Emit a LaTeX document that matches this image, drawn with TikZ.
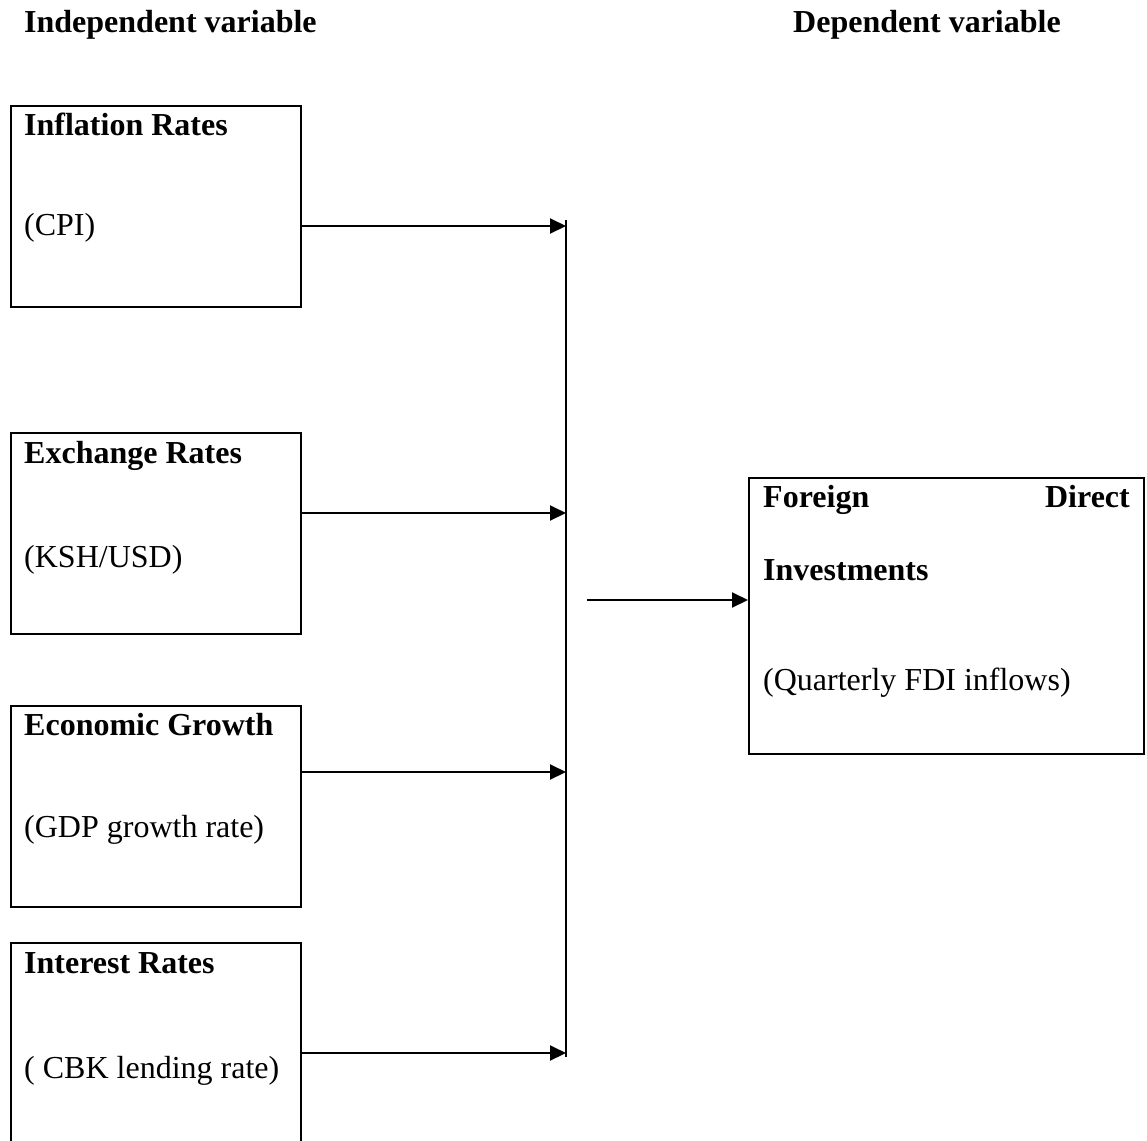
\documentclass[tikz,border=0pt]{standalone}
\usepackage{fontspec}
\setmainfont{Liberation Serif}
\usetikzlibrary{arrows.meta}
\begin{document}
\begin{tikzpicture}[x=1pt,y=-1pt,
  box/.style={draw,line width=2pt,rectangle,inner sep=0pt,anchor=north west},
  lbl/.style={anchor=base west,inner sep=0pt,font=\fontsize{32}{38}\selectfont},
  hd/.style={anchor=base west,inner sep=0pt,font=\fontsize{32}{38}\selectfont\bfseries},
  link/.style={line width=2pt,-{Triangle[length=16pt,width=15pt]}},
]
\clip (0,0) rectangle (1147,1140);
\fill[white] (0,0) rectangle (1147,1140);
% headers
\node[hd] (hind) at (24,33) {Independent variable};
\node[hd] (hdep) at (793,33) {Dependent variable};
% independent boxes
\node[box,minimum width=290pt,minimum height=201pt] (b1) at (10,105) {};
\node[box,minimum width=290pt,minimum height=201pt] (b2) at (10,432) {};
\node[box,minimum width=290pt,minimum height=201pt] (b3) at (10,705) {};
\node[box,minimum width=290pt,minimum height=201pt] (b4) at (10,942) {};
\node[hd] (t1) at (24,135) {Inflation Rates};
\node[lbl] (s1) at (24,235) {(CPI)};
\node[hd] (t2) at (24,463) {Exchange Rates};
\node[lbl] (s2) at (24,567) {(KSH/USD)};
\node[hd] (t3) at (24,735) {Economic Growth};
\node[lbl] (s3) at (24,837) {(GDP growth rate)};
\node[hd] (t4) at (24,973) {Interest Rates};
\node[lbl] (s4) at (24,1078) {( CBK lending rate)};
% dependent box
\node[box,minimum width=395pt,minimum height=276pt] (fdi) at (748,477) {};
\node[hd] (f1) at (763,507) {Foreign};
\node[hd,anchor=base east] (f2) at (1130,507) {Direct};
\node[hd] (f3) at (763,580) {Investments};
\node[lbl] (f4) at (763,690) {(Quarterly FDI inflows)};
% bus
\coordinate (bt) at (566,220);
\coordinate (bb) at (566,1057);
\coordinate (j1) at (566,226);
\coordinate (j2) at (566,513);
\coordinate (j3) at (566,772);
\coordinate (j4) at (566,1053);
\draw[line width=1.3pt] (bt) -- (bb);
\draw[link] (b1.east |- j1) -- (j1);
\draw[link] (b2.east |- j2) -- (j2);
\draw[link] (b3.east |- j3) -- (j3);
\draw[link] (b4.east |- j4) -- (j4);
\coordinate (m) at (587,600);
\draw[link] (m) -- (fdi.west |- m);
\end{tikzpicture}
\end{document}
